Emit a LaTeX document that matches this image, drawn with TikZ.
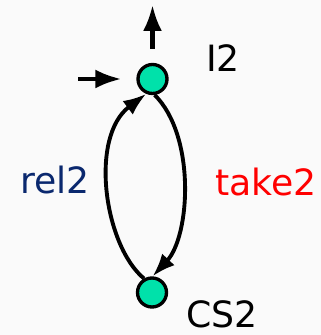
\documentclass[tikz,border=0pt]{standalone}
\usepackage{fontspec}
\setmainfont{DejaVu Sans}
\usepackage{tikz}
\usetikzlibrary{arrows.meta,positioning}

\definecolor{statefill}{RGB}{0,225,170}
\definecolor{relblue}{RGB}{10,40,110}
\definecolor{takered}{RGB}{255,0,0}

\begin{document}
\begin{tikzpicture}[
  >=Latex,
  state/.style={
    circle,
    draw=black,
    fill=statefill,
    line width=0.95pt,
    minimum size=2.9mm,
    inner sep=0pt
  },
  tag/.style={
    font=\fontsize{10.3}{12}\selectfont,
    inner sep=0pt
  },
  flow/.style={
    -{Latex[length=2.6mm,width=1.9mm]},
    line width=1.15pt
  },
  loop/.style={
    -{Latex[length=2.3mm,width=1.7mm]},
    line width=1.1pt
  }
]

% page and background
\useasboundingbox (0,0) rectangle (3.21,3.35);
\fill[black!2] (0,0) rectangle (3.21,3.35);

\node[state] (i2) at (1.525,2.56) {};
\node[state] (cs2) at (1.52,0.425) {};

\node[tag] (i2lab) at (2.23,2.77) {I2};
\node[tag] (cs2lab) at (2.22,0.21) {CS2};

% entry and exit of the initial state
\coordinate (entry) at (0.78,2.56);
\coordinate (exit) at (1.525,3.30);

\draw[flow, shorten >=1.5mm] (entry) -- (i2.west);
\draw[flow, shorten <=1.4mm] (i2.north) -- (exit);

% the two transitions, together an oval
\draw[loop] (cs2.120)
  to[out=140,in=-143,out distance=0.52cm,in distance=0.715cm] (i2.-113);
\draw[loop] (i2.-82)
  to[out=-45,in=47,out distance=0.585cm,in distance=0.55cm] (cs2.88);

\node[tag, text=relblue] (rel) at (0.55,1.55) {rel2};
\node[tag, text=takered] (take) at (2.66,1.53) {take2};

\end{tikzpicture}
\end{document}
